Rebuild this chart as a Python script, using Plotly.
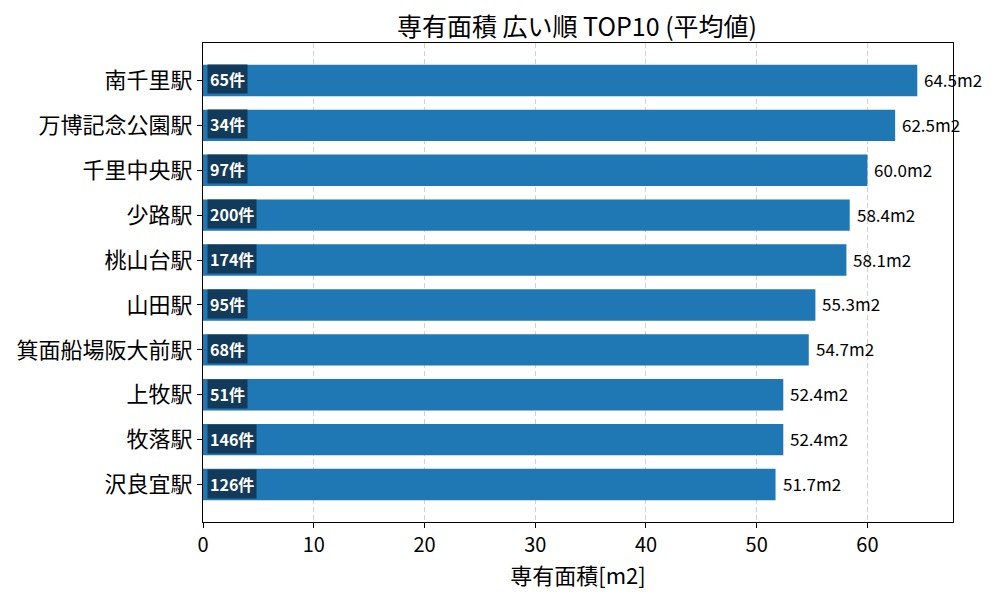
import plotly.graph_objects as go

stations = ["南千里駅", "万博記念公園駅", "千里中央駅", "少路駅", "桃山台駅", "山田駅",
            "箕面船場阪大前駅", "上牧駅", "牧落駅", "沢良宜駅"]
areas = [64.5, 62.5, 60.0, 58.4, 58.1, 55.3, 54.7, 52.4, 52.4, 51.7]
counts = [65, 34, 97, 200, 174, 95, 68, 51, 146, 126]

FONT = "Noto Sans CJK JP"
fig = go.Figure()
fig.add_trace(go.Bar(
    y=stations, x=areas, orientation="h",
    marker=dict(color="#1f77b4", line=dict(width=0)),
    width=0.7, hoverinfo="skip"))

ann = []
for s, a, c in zip(stations, areas, counts):
    ann.append(dict(x=a, y=s, xref="x", yref="y", text=f"{a:.1f}m2",
                    showarrow=False, xanchor="left", xshift=5, yshift=1,
                    font=dict(family=FONT, size=17, color="black")))
    ann.append(dict(x=0, y=s, xref="x", yref="y", text=f"<b>{c}件</b>",
                    showarrow=False, xanchor="left", xshift=4, yshift=1,
                    bgcolor="#123a5a", borderpad=2,
                    font=dict(family=FONT, size=16, color="white")))

fig.update_layout(
    width=1000, height=600,
    margin=dict(l=203, r=47, t=43, b=78),
    plot_bgcolor="white", paper_bgcolor="white",
    showlegend=False,
    title=dict(text="専有面積 広い順 TOP10 (平均値)", x=0.577, xanchor="center",
               y=0.955, yanchor="middle",
               font=dict(family=FONT, size=25, color="black")),
    xaxis=dict(range=[0, 67.725], tickmode="array", tickvals=[0, 10, 20, 30, 40, 50, 60],
               showgrid=True, gridcolor="#d3d3d3", griddash="5px,3px", gridwidth=1,
               zeroline=False, showline=True, linecolor="black", linewidth=1, mirror=True,
               ticks="outside", ticklen=5, tickcolor="black",
               tickfont=dict(family=FONT, size=20, color="black"),
               title=dict(text="専有面積[m2]", font=dict(family=FONT, size=22, color="black"), standoff=3)),
    yaxis=dict(autorange=False, range=[9.835, -0.835], categoryorder="array", categoryarray=stations,
               showgrid=False, zeroline=False, showline=True, linecolor="black", linewidth=1, mirror=True,
               ticks="outside", ticklen=5, tickcolor="black",
               tickfont=dict(family=FONT, size=22, color="black")),
    annotations=ann,
)
fig.write_html("out.html")
